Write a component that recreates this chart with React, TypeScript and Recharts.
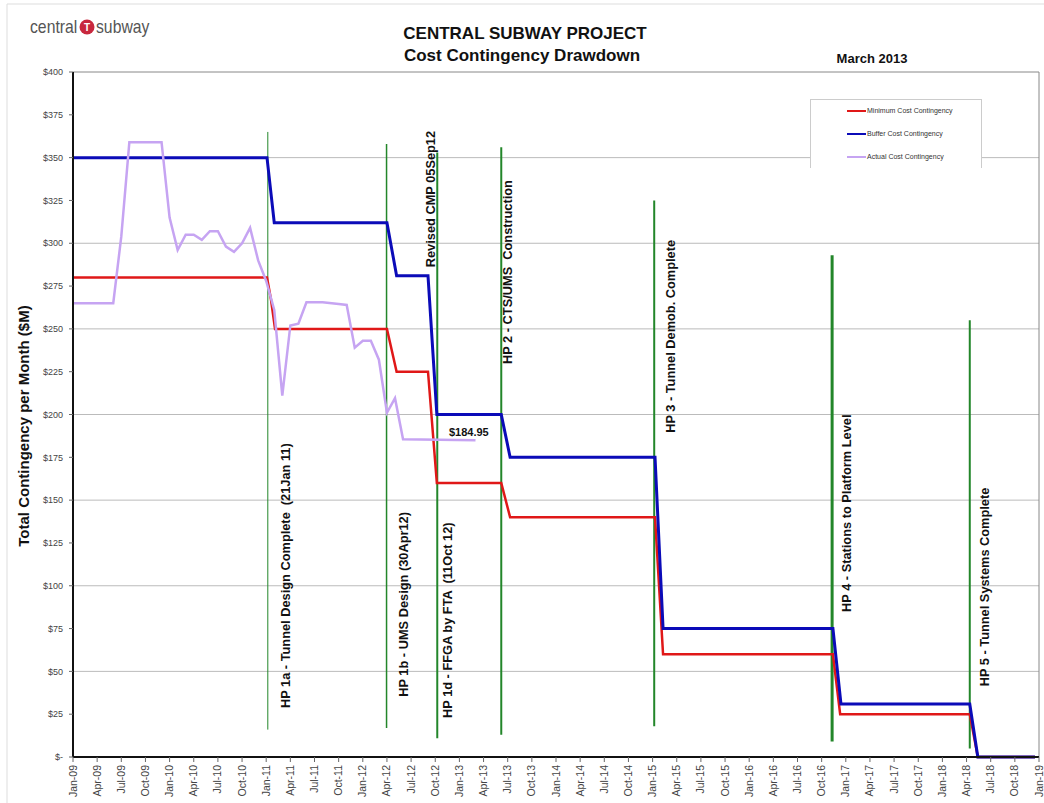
import React from "react";
import {
  ComposedChart,
  Line,
  XAxis,
  YAxis,
  CartesianGrid,
  ReferenceLine,
  ReferenceDot,
} from "recharts";

// month index: 0 = Jan-09
const minimumMonths = [0, 24.1, 24.6, 25.1, 39, 40.2, 44.1, 45.2, 53.2, 54.3, 72.3, 73.3, 94.4, 95.3, 111.4, 112.4, 119.5];
const minimumValues = [280, 280, 267, 250, 250, 225, 225, 160, 160, 140, 140, 60, 60, 25, 25, 0, 0];

const bufferMonths = [0, 24.1, 25, 39, 40.2, 44.1, 45.2, 53.2, 54.3, 72.3, 73.3, 94.4, 95.4, 111.4, 112.4, 119.5];
const bufferValues = [350, 350, 312, 312, 281, 281, 200, 200, 175, 175, 75, 75, 31, 31, 0, 0];

const actualMonths = [0, 5, 6, 7, 11, 12, 13, 14, 15, 16, 17, 18, 19, 20, 21, 22, 23, 24, 25, 26, 27, 28, 29, 31, 33, 34, 35, 36, 37, 38, 39, 40, 41, 50];
const actualValues = [265, 265, 304, 359, 359, 315, 296, 305, 305, 302, 307, 307, 298, 295, 300, 309, 290, 278, 261, 211, 252, 253, 265.5, 265.5, 264.5, 264, 239, 243, 243, 232, 201, 209.5, 185.5, 184.95];

const milestoneMonths = [24.2, 38.95, 45.25, 53.2, 72.2, 94.3, 111.4];
const milestoneTops = [365, 358, 353, 356, 325, 293, 255];
const milestoneBottoms = [16, 17, 11, 13, 18, 9, 5];
const milestoneWidths = [1, 1.5, 2, 2, 2, 3, 2];

const noteTexts = [
  "HP 1a - Tunnel Design Complete  (21Jan 11)",
  "HP 1b - UMS Design (30Apr12)",
  "Revised CMP 05Sep12",
  "HP 1d - FFGA by FTA  (11Oct 12)",
  "HP 2 - CTS/UMS  Construction",
  "HP 3 - Tunnel Demob. Complete",
  "HP 4 - Stations to Platform Level",
  "HP 5 - Tunnel Systems Complete",
];
const noteMonths = [26.4, 41.1, 44.4, 46.5, 54.0, 74.2, 96.1, 113.2];
const noteBottoms = [28.6, 35.2, 286, 22.8, 229.5, 189.3, 84.7, 41.3];

const monthNames = ["Jan", "Apr", "Jul", "Oct"];
const xTicks = Array.from({ length: 41 }, (_, i) => i * 3);
const yTicks = Array.from({ length: 17 }, (_, i) => i * 25);
const gridValues = [50, 100, 150, 200, 250, 300, 350];

const series = [
  { name: "Minimum Cost Contingency", color: "#e01818", width: 2.5, months: minimumMonths, values: minimumValues },
  { name: "Buffer Cost Contingency", color: "#0b0bb8", width: 3, months: bufferMonths, values: bufferValues },
  { name: "Actual Cost Contingency", color: "#c6a4f2", width: 2.5, months: actualMonths, values: actualValues },
];

const toPoints = (months: number[], values: number[]) =>
  months.map((m, i) => ({ m, v: values[i] }));

const monthLabel = (m: number) => {
  const yr = 9 + Math.floor(m / 12);
  return `${monthNames[(m % 12) / 3]}-${String(yr).padStart(2, "0")}`;
};

const MonthTick = ({ x, y, payload }: any) => (
  <g transform={`translate(${x},${y})`}>
    <text transform="rotate(-90)" x={0} y={0} dy={3.5} textAnchor="end" fontSize={10.5} fill="#444">
      {monthLabel(payload.value)}
    </text>
  </g>
);

const noteShape = (text: string) => (p: any) => (
  <text
    x={p.cx}
    y={p.cy}
    transform={`rotate(-90 ${p.cx} ${p.cy})`}
    dominantBaseline="central"
    fontSize={12.8}
    fontWeight="bold"
    fill="#111"
    style={{ whiteSpace: "pre" }}
  >
    {text}
  </text>
);

const LegendBox = () => (
  <div
    style={{
      position: "absolute",
      left: 810,
      top: 99,
      width: 172,
      height: 69,
      background: "#fff",
      border: "1px solid #ccc",
      borderBottom: "none",
      boxSizing: "border-box",
    }}
  >
    {series.map((s, i) => (
      <div
        key={s.name}
        style={{ position: "absolute", left: 36, top: 6 + i * 23, display: "flex", alignItems: "center", lineHeight: "10px" }}
      >
        <span style={{ display: "inline-block", width: 19, height: 2, background: s.color }} />
        <span style={{ fontSize: 7, color: "#333", marginLeft: 1 }}>{s.name}</span>
      </div>
    ))}
  </div>
);

export default function App() {
  return (
    <div
      style={{
        position: "relative",
        width: 1044,
        height: 803,
        background: "#fff",
        fontFamily: "'Liberation Sans', Arial, sans-serif",
        overflow: "hidden",
      }}
    >
      <style>{`body{margin:0}`}</style>
      <ComposedChart width={1044} height={803} margin={{ top: 72, right: 5, bottom: 6, left: 12 }}>
        <CartesianGrid horizontal vertical={false} horizontalValues={gridValues} stroke="#bbb" />
        <XAxis
          dataKey="m"
          type="number"
          domain={[0, 120]}
          ticks={xTicks}
          interval={0}
          height={40}
          tick={<MonthTick />}
          tickSize={5}
          tickMargin={3}
          axisLine={{ stroke: "#111", strokeWidth: 2 }}
          tickLine={{ stroke: "#666" }}
          allowDataOverflow
        />
        <YAxis
          type="number"
          domain={[0, 400]}
          ticks={yTicks}
          interval={0}
          width={61}
          tickSize={4}
          tickMargin={6}
          tickFormatter={(v: number) => (v === 0 ? "$-" : `$${v}`)}
          tick={{ fontSize: 9, fill: "#444" }}
          axisLine={{ stroke: "#111", strokeWidth: 2 }}
          tickLine={{ stroke: "#666" }}
        />
        <ReferenceLine y={400} stroke="#888" />
        <ReferenceLine x={120} stroke="#888" />
        {milestoneMonths.map((m, i) => (
          <ReferenceLine
            key={`ms${i}`}
            segment={[
              { x: m, y: milestoneBottoms[i] },
              { x: m, y: milestoneTops[i] },
            ]}
            stroke="#23862a"
            strokeWidth={milestoneWidths[i]}
          />
        ))}
        {series.map((s) => (
          <Line
            key={s.name}
            name={s.name}
            data={toPoints(s.months, s.values)}
            dataKey="v"
            stroke={s.color}
            strokeWidth={s.width}
            dot={false}
            type="linear"
            isAnimationActive={false}
          />
        ))}
        {noteTexts.map((t, i) => (
          <ReferenceDot key={`n${i}`} x={noteMonths[i]} y={noteBottoms[i]} shape={noteShape(t)} />
        ))}
        <ReferenceDot
          x={46.7}
          y={190}
          shape={(p: any) => (
            <text x={p.cx} y={p.cy} dominantBaseline="central" fontSize={11} fontWeight="bold" fill="#111">
              $184.95
            </text>
          )}
        />
      </ComposedChart>
      <LegendBox />
      <svg
        width={1044}
        height={803}
        style={{ position: "absolute", left: 0, top: 0, pointerEvents: "none" }}
      >
        <line x1={7} y1={4} x2={1044} y2={4} stroke="#ddd" />
        <line x1={7} y1={4} x2={7} y2={803} stroke="#ddd" />
        {/* logo: condensed wordmark around the red T roundel */}
        <g transform="translate(30 33) scale(0.83 1)">
          <text x={0} y={0} fontSize={19} fill="#555">
            central
          </text>
        </g>
        <circle cx={87} cy={27} r={7.5} fill="#c8283e" />
        <text x={87} y={31} fontSize={10} fontWeight="bold" fill="#fff" textAnchor="middle">
          T
        </text>
        <g transform="translate(96 33) scale(0.83 1)">
          <text x={0} y={0} fontSize={19} fill="#555">
            subway
          </text>
        </g>
        <text x={525} y={39} fontSize={17} fontWeight="bold" textAnchor="middle" fill="#111">
          CENTRAL SUBWAY PROJECT
        </text>
        <text x={522} y={61} fontSize={17} fontWeight="bold" textAnchor="middle" fill="#111">
          Cost Contingency Drawdown
        </text>
        <text x={872} y={63} fontSize={13} fontWeight="bold" textAnchor="middle" fill="#111">
          March 2013
        </text>
        <text
          x={23}
          y={426}
          transform="rotate(-90 23 426)"
          fontSize={15}
          fontWeight="bold"
          textAnchor="middle"
          dominantBaseline="central"
          fill="#111"
        >
          Total Contingency per Month ($M)
        </text>
      </svg>
    </div>
  );
}
